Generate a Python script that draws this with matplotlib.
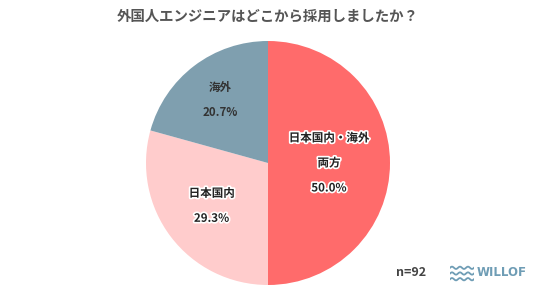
import numpy as np
import matplotlib
matplotlib.use("Agg")
import matplotlib.pyplot as plt
import matplotlib.patheffects as pe

plt.rcParams['font.family'] = ['Noto Sans CJK JP', 'DejaVu Sans']

# data
title = "外国人エンジニアはどこから採用しましたか？"
labels = ["日本国内・海外\n両方", "日本国内", "海外"]
values = [50.0, 29.3, 20.7]
colors = ["#FF6B6B", "#FFCCCC", "#7F9FAF"]
label_r = [0.5, 0.58, 0.65]
n_text = "n=92"

fig = plt.figure(figsize=(5.36, 2.98), dpi=100)
fig.patch.set_facecolor("white")

# pie centred at (268, 163) px, radius 122 px
W, H = 536, 298
cx, cy, r = 268, 163, 122
ax = fig.add_axes([(cx - r) / W, (H - cy - r) / H, 2 * r / W, 2 * r / H])
wedges, _ = ax.pie(values, colors=colors, startangle=90, counterclock=False,
                   radius=1.0, wedgeprops=dict(linewidth=0))
ax.set_xlim(-1, 1)
ax.set_ylim(-1, 1)
ax.set_aspect("equal")
ax.axis("off")

for w, lab, v, d in zip(wedges, labels, values, label_r):
    ang = np.deg2rad((w.theta1 + w.theta2) / 2)
    x, y = d * np.cos(ang), d * np.sin(ang)
    txt = ax.text(x, y, f"{lab}\n{v:.1f}%", ha="center", va="center",
                  fontsize=8.3, fontweight="bold", color="#222222",
                  linespacing=2.2)
    if lab != "海外":
        txt.set_path_effects([pe.withStroke(linewidth=2.4, foreground="white")])
    else:
        txt.set_color("#333333")

fig.text(0.5, 1 - 17 / H, title, ha="center", va="center",
         fontsize=10.4, fontweight="bold", color="#555555")
fig.text(411 / W, 1 - 272 / H, n_text, ha="center", va="center",
         fontsize=9, fontweight="bold", color="#444444")

# logo
logo_c = "#6F9DB5"
lax = fig.add_axes([450 / W, 1 - 283 / H, 24 / W, 19 / H])
t = np.linspace(0, 1, 60)
for k in range(3):
    lax.plot(t, 0.2 + 0.3 * k + 0.06 * np.sin(t * 2 * np.pi * 3), color=logo_c, lw=1.3)
lax.set_xlim(0, 1)
lax.set_ylim(0, 1)
lax.axis("off")
fig.text(477 / W, 1 - 272 / H, "WILLOF", ha="left", va="center",
         fontsize=8.5, fontweight="bold", color=logo_c, family="DejaVu Sans")

fig.savefig("out.png", dpi=100, facecolor="white")
